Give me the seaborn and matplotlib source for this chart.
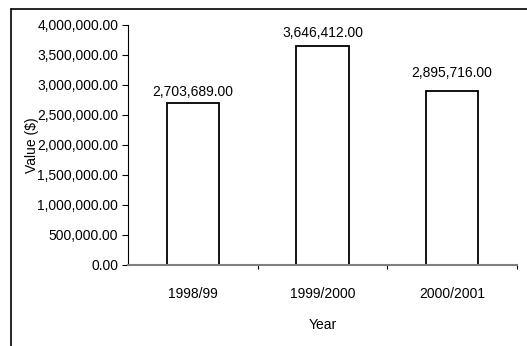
import matplotlib
matplotlib.use("Agg")
import matplotlib.pyplot as plt
from matplotlib.lines import Line2D
from matplotlib.ticker import FuncFormatter, FixedLocator
import seaborn as sns
import pandas as pd

years = ["1998/99", "1999/2000", "2000/2001"]
values = [2703689.00, 3646412.00, 2895716.00]
y_ticks = [0, 500000, 1000000, 1500000, 2000000, 2500000, 3000000, 3500000, 4000000]

df = pd.DataFrame({"Year": years, "Value": values})

sns.set_theme(style="white")
plt.rcParams["font.family"] = ["Liberation Sans", "DejaVu Sans"]

FS = 10
W, H = 527, 346
fig = plt.figure(figsize=(W / 100, H / 100), dpi=100)
fig.patch.set_facecolor("white")
ax = fig.add_axes([128 / W, (H - 265) / H, (517 - 128) / W, (265 - 25) / H])

sns.barplot(data=df, x="Year", y="Value", ax=ax, color="white",
            edgecolor="black", linewidth=1.3, width=0.405, saturation=1)

ax.set_xlim(-0.5, 2.5)
ax.set_ylim(0, 4000000)
ax.set_yticks(y_ticks)
ax.yaxis.set_major_formatter(FuncFormatter(lambda v, p: f"{v:,.2f}"))

# value labels above each bar (label offsets in points)
label_offsets = [8, 9.5, 13]
for i, v in enumerate(df["Value"]):
    ax.annotate(f"{v:,.2f}", xy=(i, v), xytext=(0, label_offsets[i]),
                textcoords="offset points", ha="center", va="center",
                fontsize=FS, color="black")

for side in ("top", "right"):
    ax.spines[side].set_visible(False)
ax.spines["left"].set_color("black")
ax.spines["left"].set_linewidth(0.8)
ax.spines["bottom"].set_color("#808080")
ax.spines["bottom"].set_linewidth(1.5)

ax.tick_params(axis="y", which="major", direction="out", length=4, width=0.8,
               color="black", pad=3, labelsize=FS, labelcolor="black", left=True)
ax.tick_params(axis="x", which="major", length=0, pad=16, labelsize=FS, labelcolor="black")
ax.xaxis.set_minor_locator(FixedLocator([0.5, 1.5, 2.5]))
ax.tick_params(axis="x", which="minor", direction="out", length=3, width=0.8,
               color="black", bottom=True)

ax.set_xlabel("Year", fontsize=FS, labelpad=12, color="black")
ax.set_ylabel("Value ($)", fontsize=FS, labelpad=-1.5, color="black")
ax.set_facecolor("white")

# outer chart frame
fig.add_artist(Line2D([11 / W, 11 / W], [-0.05, (H - 9) / H], transform=fig.transFigure,
                      color="black", linewidth=1.2))
fig.add_artist(Line2D([11 / W, 1.05], [(H - 9) / H, (H - 9) / H], transform=fig.transFigure,
                      color="black", linewidth=1.2))

fig.savefig("out.png", dpi=100, facecolor="white")
